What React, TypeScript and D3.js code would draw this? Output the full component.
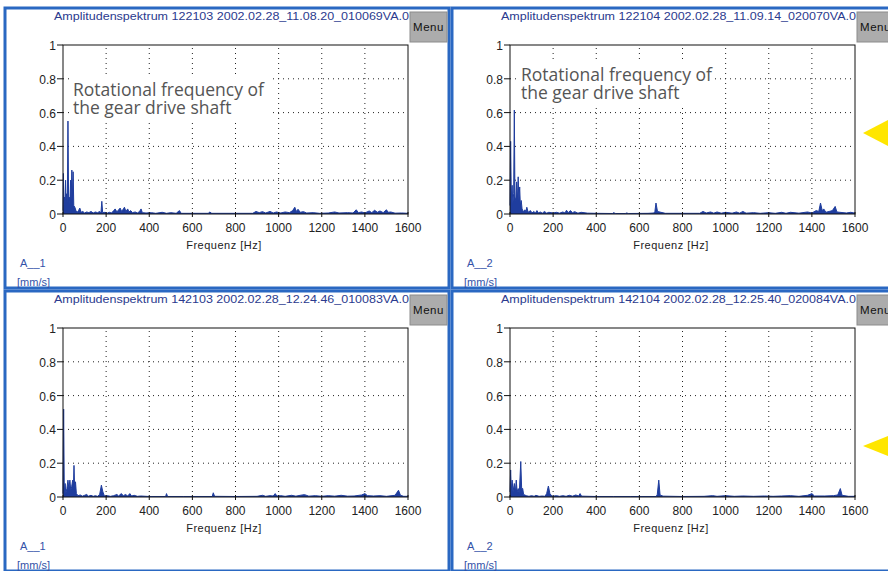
import * as d3 from 'd3'

// axis ticks
const freqTicks = [0, 200, 400, 600, 800, 1000, 1200, 1400, 1600]
const ampTicks = [0, 0.2, 0.4, 0.6, 0.8, 1]
const gridFreq = [200, 400, 600, 800, 1000, 1200, 1400]
const gridAmp = [0.2, 0.4, 0.6, 0.8]

const titles = [
  'Amplitudenspektrum 122103 2002.02.28_11.08.20_010069VA.0',
  'Amplitudenspektrum 122104 2002.02.28_11.09.14_020070VA.0',
  'Amplitudenspektrum 142103 2002.02.28_12.24.46_010083VA.0',
  'Amplitudenspektrum 142104 2002.02.28_12.25.40_020084VA.0',
]
const channels = ['A__1', 'A__2', 'A__1', 'A__2']
const unitLabel = '[mm/s]'
const xLabel = 'Frequenz [Hz]'
const noteLines = ['Rotational frequency of', 'the gear drive shaft']

// [Hz, mm/s]
const spectrumA: [number, number][] = [
  [0, 0.02], [2, 0.24], [4, 0.06], [7, 0.1], [9, 0.05], [12, 0.2], [14, 0.08], [17, 0.12],
  [20, 0.06], [23, 0.55], [26, 0.08], [29, 0.1], [32, 0.06], [35, 0.2], [38, 0.08], [41, 0.26],
  [44, 0.1], [47, 0.25], [50, 0.05], [55, 0.04], [60, 0.02], [66, 0.01], [72, 0.02], [78, 0.035],
  [84, 0.01], [92, 0.015], [100, 0.006], [110, 0.012], [120, 0.008], [130, 0.015], [140, 0.006],
  [150, 0.012], [160, 0.008], [170, 0.015], [176, 0.006], [180, 0.075], [184, 0.008], [195, 0.01],
  [205, 0.005], [215, 0.01], [225, 0.006], [235, 0.02], [242, 0.03], [250, 0.012], [258, 0.025],
  [265, 0.035], [272, 0.015], [280, 0.03], [285, 0.04], [292, 0.015], [300, 0.03], [306, 0.012],
  [314, 0.02], [322, 0.008], [335, 0.012], [345, 0.006], [355, 0.015], [362, 0.03], [368, 0.008],
  [385, 0.006], [410, 0.008], [430, 0.004], [460, 0.01], [480, 0.004], [500, 0.008], [525, 0.004],
  [540, 0.02], [548, 0.004], [600, 0.004], [640, 0.004], [675, 0.004], [680, 0.012], [690, 0.004],
  [800, 0.004], [880, 0.004], [895, 0.015], [910, 0.008], [925, 0.014], [940, 0.006], [960, 0.015],
  [975, 0.006], [990, 0.012], [1010, 0.006], [1030, 0.012], [1050, 0.008], [1065, 0.02], [1075, 0.04],
  [1082, 0.015], [1090, 0.028], [1100, 0.01], [1115, 0.014], [1130, 0.006], [1160, 0.008],
  [1190, 0.004], [1230, 0.006], [1260, 0.012], [1280, 0.006], [1320, 0.008], [1345, 0.006],
  [1360, 0.025], [1370, 0.008], [1385, 0.012], [1400, 0.006], [1420, 0.018], [1432, 0.008],
  [1445, 0.022], [1458, 0.01], [1470, 0.018], [1485, 0.008], [1500, 0.025], [1508, 0.01],
  [1520, 0.012], [1540, 0.005], [1570, 0.006], [1600, 0.004],
]
const spectrumB: [number, number][] = [
  [0, 0.05], [3, 0.43], [6, 0.1], [10, 0.17], [13, 0.06], [17, 0.12], [20, 0.615], [23, 0.1],
  [27, 0.08], [31, 0.19], [34, 0.07], [38, 0.22], [41, 0.08], [45, 0.16], [48, 0.05], [52, 0.08],
  [56, 0.03], [62, 0.015], [70, 0.025], [74, 0.01], [78, 0.04], [84, 0.01], [95, 0.02], [102, 0.006],
  [110, 0.015], [118, 0.006], [125, 0.02], [132, 0.006], [140, 0.012], [150, 0.005], [160, 0.015],
  [170, 0.005], [180, 0.01], [200, 0.006], [215, 0.01], [230, 0.005], [245, 0.012], [255, 0.006],
  [262, 0.022], [270, 0.008], [280, 0.02], [290, 0.008], [300, 0.014], [315, 0.005], [330, 0.01],
  [360, 0.005], [400, 0.004], [475, 0.003], [480, 0.008], [490, 0.003], [535, 0.003], [540, 0.006],
  [550, 0.003], [640, 0.004], [668, 0.006], [672, 0.015], [677, 0.065], [684, 0.015], [700, 0.01],
  [720, 0.004], [800, 0.004], [880, 0.004], [895, 0.015], [910, 0.006], [930, 0.012], [945, 0.005],
  [960, 0.012], [980, 0.005], [1000, 0.01], [1030, 0.005], [1050, 0.012], [1065, 0.005],
  [1080, 0.015], [1095, 0.005], [1130, 0.008], [1160, 0.004], [1200, 0.008], [1230, 0.004],
  [1260, 0.01], [1280, 0.004], [1300, 0.01], [1340, 0.005], [1380, 0.012], [1400, 0.006],
  [1420, 0.02], [1432, 0.015], [1440, 0.065], [1448, 0.02], [1455, 0.03], [1465, 0.01],
  [1480, 0.015], [1495, 0.02], [1508, 0.045], [1516, 0.012], [1530, 0.01], [1560, 0.006],
  [1580, 0.01], [1600, 0.005],
]
const spectrumC: [number, number][] = [
  [0, 0.02], [3, 0.52], [6, 0.03], [10, 0.08], [13, 0.02], [18, 0.05], [23, 0.1], [27, 0.05],
  [32, 0.1], [36, 0.04], [40, 0.06], [45, 0.1], [48, 0.04], [51, 0.187], [54, 0.05], [58, 0.09],
  [62, 0.02], [70, 0.008], [80, 0.012], [90, 0.005], [100, 0.01], [110, 0.015], [118, 0.005],
  [130, 0.01], [140, 0.004], [150, 0.008], [160, 0.004], [170, 0.015], [178, 0.07], [185, 0.03],
  [192, 0.006], [205, 0.008], [220, 0.004], [235, 0.008], [250, 0.015], [258, 0.006], [270, 0.02],
  [280, 0.008], [290, 0.015], [300, 0.006], [310, 0.02], [318, 0.006], [330, 0.01], [345, 0.004],
  [360, 0.006], [400, 0.003], [476, 0.003], [480, 0.02], [485, 0.003], [560, 0.003], [640, 0.003],
  [692, 0.003], [697, 0.025], [703, 0.004], [800, 0.003], [900, 0.004], [925, 0.01], [940, 0.004],
  [960, 0.008], [975, 0.006], [984, 0.02], [992, 0.006], [1010, 0.008], [1030, 0.004], [1060, 0.01],
  [1080, 0.005], [1100, 0.01], [1120, 0.014], [1140, 0.005], [1170, 0.008], [1200, 0.004],
  [1230, 0.008], [1260, 0.005], [1290, 0.01], [1320, 0.005], [1350, 0.006], [1385, 0.012],
  [1400, 0.02], [1412, 0.008], [1440, 0.006], [1470, 0.008], [1500, 0.004], [1540, 0.01],
  [1556, 0.04], [1565, 0.01], [1580, 0.004], [1600, 0.004],
]
const spectrumD: [number, number][] = [
  [0, 0.03], [3, 0.16], [6, 0.04], [10, 0.1], [14, 0.03], [20, 0.08], [25, 0.03], [29, 0.1],
  [33, 0.03], [38, 0.05], [43, 0.02], [50, 0.21], [54, 0.05], [59, 0.05], [63, 0.015], [75, 0.008],
  [88, 0.004], [100, 0.008], [112, 0.004], [120, 0.01], [135, 0.004], [150, 0.006], [162, 0.004],
  [170, 0.02], [178, 0.065], [185, 0.02], [195, 0.004], [215, 0.008], [230, 0.004], [245, 0.008],
  [260, 0.004], [275, 0.01], [290, 0.005], [305, 0.012], [318, 0.006], [325, 0.02], [332, 0.005],
  [400, 0.003], [480, 0.003], [560, 0.003], [640, 0.003], [678, 0.003], [683, 0.015], [690, 0.1],
  [696, 0.012], [710, 0.005], [800, 0.003], [900, 0.004], [940, 0.008], [960, 0.004], [1000, 0.008],
  [1040, 0.004], [1080, 0.006], [1130, 0.004], [1180, 0.006], [1220, 0.004], [1260, 0.006],
  [1300, 0.008], [1340, 0.004], [1380, 0.01], [1400, 0.02], [1412, 0.006], [1460, 0.006],
  [1500, 0.008], [1520, 0.012], [1532, 0.05], [1540, 0.01], [1570, 0.004], [1600, 0.004],
]
const spectra = [spectrumA, spectrumB, spectrumC, spectrumD]

const BLUE = '#2a68c2'
const TRACE = '#1f3d9e'
const TEXTBLUE = '#2b3a8e'
const sans = '"Liberation Sans", Arial, sans-serif'

const x = d3.scaleLinear().domain([0, 1600]).range([63, 408])
const y = d3.scaleLinear().domain([0, 1]).range([214, 45])

const area = d3.area<[number, number]>().x(d => x(d[0])).y0(y(0)).y1(d => y(d[1]))
const line = d3.line<[number, number]>().x(d => x(d[0])).y(d => y(d[1]))

interface Note { x: number; y: number; box: [number, number, number, number] }

function Panel({ idx, ox, oy, note }: { idx: number; ox: number; oy: number; note?: Note }) {
  const data = spectra[idx]
  const [x0, x1] = x.range()
  const [y0, y1] = y.range()
  return (
    <g transform={`translate(${ox},${oy})`}>
      <rect x={5} y={8} width={444} height={280} fill="#fff" stroke={BLUE} strokeWidth={3} />
      <text x={54} y={20} fontFamily={sans} fontSize={11} fill={TEXTBLUE} textLength={355} lengthAdjust="spacingAndGlyphs">
        {titles[idx]}
      </text>
      <rect x={410} y={12} width={37} height={30} fill="#acacac" stroke="#8c8c8c" />
      <text x={428.5} y={31} textAnchor="middle" fontFamily={sans} fontSize={11.5} letterSpacing={0.5} fill="#111">Menu</text>

      {gridAmp.map(v => (
        <line key={'gy' + v} x1={x0} x2={x1} y1={y(v)} y2={y(v)} stroke="#222" strokeDasharray="1,4" />
      ))}
      {gridFreq.map(v => (
        <line key={'gx' + v} x1={x(v)} x2={x(v)} y1={y0} y2={y1} stroke="#222" strokeDasharray="1,4" />
      ))}

      {note && (
        <g>
          <rect x={note.box[0]} y={note.box[1]} width={note.box[2]} height={note.box[3]} fill="#fff" />
          <text fontFamily='"Open Sans", sans-serif' fontSize={17.5} fill="#555">
            {noteLines.map((t, i) => (
              <tspan key={t} x={note.x} y={note.y + i * 18}>{t}</tspan>
            ))}
          </text>
        </g>
      )}

      <path d={area(data) || ''} fill={TRACE} />
      <path d={line(data) || ''} fill="none" stroke={TRACE} strokeWidth={1} />

      <rect x={x0} y={y1} width={x1 - x0} height={y0 - y1} fill="none" stroke="#111" strokeWidth={1} />
      {ampTicks.map(v => (
        <g key={'ty' + v}>
          <line x1={x0 - 6} x2={x0} y1={y(v)} y2={y(v)} stroke="#111" />
          <text x={x0 - 7} y={y(v) + 5} textAnchor="end" fontFamily={sans} fontSize={12} fill="#222">{v}</text>
        </g>
      ))}
      {freqTicks.map(v => (
        <g key={'tx' + v}>
          <line x1={x(v)} x2={x(v)} y1={y0 - 2} y2={y0 + 3} stroke="#111" />
          <text x={x(v)} y={232} textAnchor="middle" fontFamily={sans} fontSize={12} fill="#222">{v}</text>
        </g>
      ))}
      <text x={224} y={249} textAnchor="middle" fontFamily={sans} fontSize={11} letterSpacing={0.5} fill="#222">{xLabel}</text>
      <text x={20} y={267} fontFamily={sans} fontSize={11} fill="#3352a8">{channels[idx]}</text>
      <text x={17} y={286} fontFamily={sans} fontSize={11} fill="#3352a8">{unitLabel}</text>
    </g>
  )
}

export default function App() {
  return (
    <div style={{ position: 'absolute', left: 0, top: 0 }}>
      <svg width={888} height={571} style={{ display: 'block', background: '#fff' }}>
        <Panel idx={0} ox={0} oy={0} note={{ x: 73, y: 96, box: [71, 75, 200, 44] }} />
        <Panel idx={1} ox={447} oy={0} note={{ x: 74, y: 81, box: [71, 62, 196, 44] }} />
        <Panel idx={2} ox={0} oy={283} />
        <Panel idx={3} ox={447} oy={283} />
        <polygon points="863,133 888,120 888,146" fill="#ffe600" />
        <polygon points="863,446 888,436 888,456" fill="#ffe600" />
      </svg>
    </div>
  )
}
